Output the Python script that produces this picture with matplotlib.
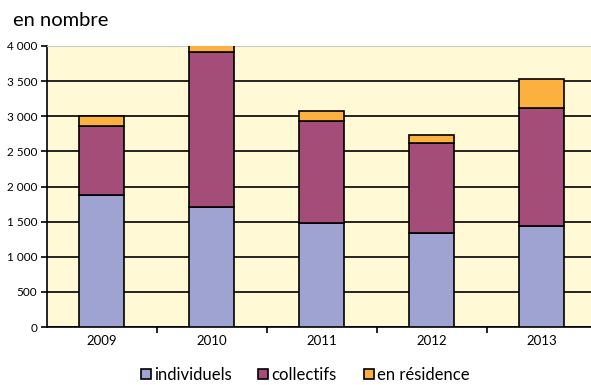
import numpy as np
import matplotlib.pyplot as plt
from matplotlib.ticker import FuncFormatter, FixedLocator

annees = ["2009", "2010", "2011", "2012", "2013"]
individuels = [1875, 1712, 1476, 1342, 1433]
collectifs = [985, 2198, 1461, 1273, 1684]
en_residence = [140, 150, 138, 114, 417]

plt.rcParams['font.family'] = ['Lato', 'DejaVu Sans']

fig = plt.figure(figsize=(5.91, 3.85), dpi=100)
ax = fig.add_axes([47 / 591, 1 - 327 / 385, 549.5 / 591, 281 / 385])

x = np.arange(len(annees))
w = 0.41
bas2 = np.array(individuels)
bas3 = bas2 + np.array(collectifs)
ax.bar(x, individuels, w, color="#9EA3D2", edgecolor="black", linewidth=1.2,
       label="individuels", zorder=3)
ax.bar(x, collectifs, w, bottom=bas2, color="#A44D79", edgecolor="black",
       linewidth=1.2, label="collectifs", zorder=3)
ax.bar(x, en_residence, w, bottom=bas3, color="#FBB040", edgecolor="black",
       linewidth=1.2, label="en résidence", zorder=3)

ax.set_facecolor("#FFF9D6")
ax.set_xlim(-0.5, len(annees) - 0.5)
ax.set_ylim(0, 4000)
ax.set_yticks(np.arange(0, 4001, 500))
ax.yaxis.set_major_formatter(FuncFormatter(lambda v, p: f"{int(v):,}".replace(",", " ")))
ax.grid(axis="y", color="black", linewidth=1.2, zorder=0)
ax.set_axisbelow(True)

ax.set_xticks(x)
ax.set_xticklabels(annees)
ax.xaxis.set_minor_locator(FixedLocator(np.arange(0.5, len(annees) - 1, 1)))
ax.tick_params(axis="x", which="major", length=0, labelsize=9.5, pad=6)
ax.tick_params(axis="x", which="minor", length=4, width=1.2, direction="out")
ax.tick_params(axis="y", length=4, width=1.2, labelsize=8.5, pad=3)

for s in ["left", "bottom"]:
    ax.spines[s].set_linewidth(1.2)
ax.spines["top"].set_color("#cccccc")
ax.spines["right"].set_visible(False)

fig.text(13 / 591, 1 - 20 / 385, "en nombre", fontsize=14.5, va="center", ha="left")

fig.legend(loc="center", bbox_to_anchor=(305 / 591, 1 - 375 / 385), ncol=3,
           frameon=False, fontsize=12, handlelength=0.6, handleheight=0.6,
           handletextpad=0.2, columnspacing=1.6)

fig.savefig("out.png", dpi=100)
